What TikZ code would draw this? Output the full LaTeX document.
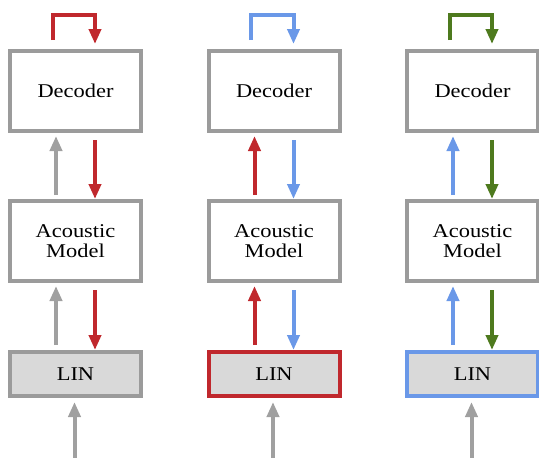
\documentclass[tikz,border=0pt]{standalone}
\usepackage{fontspec}
\setmainfont[FakeStretch=1.15]{Liberation Serif}
\usetikzlibrary{arrows.meta,calc}
\definecolor{myred}{HTML}{C0282D}
\definecolor{myblue}{HTML}{6A98E8}
\definecolor{mygreen}{HTML}{4E7A1E}
\definecolor{boxgray}{HTML}{9B9B9B}
\definecolor{arrgray}{HTML}{A0A0A0}
\definecolor{linfill}{HTML}{D9D9D9}
\begin{document}
\begin{tikzpicture}[x=1pt,y=-1pt,
  blk/.style={draw=boxgray, line width=4pt, fill=white, minimum width=131pt,
    minimum height=79.5pt, outer sep=0pt, inner sep=2pt, align=center,
    font=\fontsize{19.5}{20}\selectfont},
  lin/.style={blk, fill=linfill, minimum height=43.5pt},
  flow/.style={line width=4pt, line join=miter, -{Triangle[length=15pt,width=12pt]}},
]
\useasboundingbox (0,0) rectangle (539,458);
% one column per configuration: left edge, feedback, upward, downward and LIN border colours
\foreach \i/\lx/\fb/\up/\dn/\lb in {1/10/myred/arrgray/myred/boxgray,
                                    2/208.5/myblue/myred/myblue/myred,
                                    3/407/mygreen/myblue/mygreen/myblue}{
  \node[blk] (dec\i) at (\lx+65.5, 90.75) {Decoder};
  \node[blk] (am\i) at (\lx+65.5, 240.75) {Acoustic\\Model};
  \node[lin, draw=\lb] (lin\i) at (\lx+65.5, 373.75) {LIN};
  % decoder feedback loop
  \draw[flow, color=\fb] ($(dec\i.north west)+(42.5,-11)$) |- ($(dec\i.north west)+(85,-36)$)
        -- ($(dec\i.north west)+(85,-7)$);
  % between decoder and acoustic model
  \draw[flow, color=\up] ($(am\i.north west)+(46,-6)$) -- ($(dec\i.south west)+(46,5.5)$);
  \draw[flow, color=\dn] ($(dec\i.south west)+(85,9.5)$) -- ($(am\i.north west)+(85,-2)$);
  % between acoustic model and LIN
  \draw[flow, color=\up] ($(lin\i.north west)+(46,-7)$) -- ($(am\i.south west)+(46,5.5)$);
  \draw[flow, color=\dn] ($(am\i.south west)+(85,9.5)$) -- ($(lin\i.north west)+(85,-2)$);
  % input
  \coordinate (in\i) at (\lx+64.5, 460);
  \draw[flow, color=arrgray] (in\i) -- ($(lin\i.south west)+(64.5,6.5)$);
}
\end{tikzpicture}
\end{document}
